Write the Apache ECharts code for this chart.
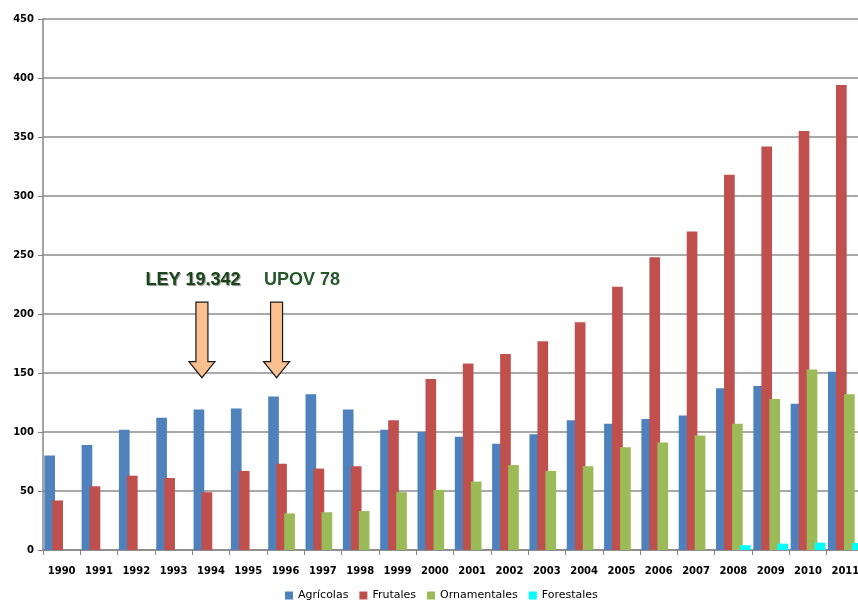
<!DOCTYPE html>
<html>
<head>
<meta charset="utf-8">
<script src="https://cdn.jsdelivr.net/npm/echarts@6/dist/echarts.min.js"></script>
<style>
html,body{margin:0;padding:0;background:#fff;}
#chart{width:858px;height:606px;}
</style>
</head>
<body>
<div id="chart"></div>
<script>
// categorias (años)
var years = ['1990','1991','1992','1993','1994','1995','1996','1997','1998','1999','2000',
             '2001','2002','2003','2004','2005','2006','2007','2008','2009','2010','2011'];
var agricolas = [80,89,102,112,119,120,130,132,119,102,100,96,90,98,110,107,111,114,137,139,124,151];
var frutales = [42,54,63,61,49,67,73,69,71,110,145,158,166,177,193,223,248,270,318,342,355,394];
var ornamentales = [null,null,null,null,null,null,31,32,33,49,51,58,72,67,71,87,91,97,107,128,153,132];
var forestales = [null,null,null,null,null,null,null,null,null,null,null,null,null,null,null,null,null,null,4,5.4,6.2,6];
var yTicks = [0,50,100,150,200,250,300,350,400,450];
// anotaciones: texto, año de la flecha
var notes = [
    {text:'LEY 19.342', year:'1994'},
    {text:'UPOV 78', year:'1996'}
];

var chart = echarts.init(document.getElementById('chart'));

function bar(name, data, color){
    return {
        name:name,
        type:'bar',
        data:data,
        barGap:'-25%',
        barCategoryGap:'7%',
        itemStyle:{color:color}
    };
}

var option = {
    animation:false,
    legend:{
        bottom:0,
        left:280,
        itemWidth:8,
        itemHeight:8,
        itemGap:11,
        icon:'rect',
        textStyle:{fontFamily:'DejaVu Sans',fontSize:11,color:'#000'},
        data:['Agrícolas','Frutales','Ornamentales','Forestales']
    },
    // el eje sigue más allá del borde derecho (2011 queda cortado)
    grid:{left:43,width:821,top:19,bottom:56,outerBoundsMode:'none'},
    xAxis:{
        type:'category',
        data:years,
        axisLine:{lineStyle:{color:'#868686',width:1.5}},
        axisTick:{show:true,length:5,lineStyle:{color:'#868686'}},
        axisLabel:{
            margin:16,
            interval:0,
            fontFamily:'DejaVu Sans',
            fontSize:10,
            fontWeight:'bold',
            color:'#000'
        }
    },
    yAxis:{
        type:'value',
        min:0,
        max:450,
        interval:50,
        axisLine:{show:true,lineStyle:{color:'#868686',width:1.5}},
        axisTick:{show:true,length:5,lineStyle:{color:'#868686'}},
        splitLine:{lineStyle:{color:'#8c8c8c',width:1.5}},
        axisLabel:{
            margin:9,
            fontFamily:'DejaVu Sans',
            fontSize:10,
            fontWeight:'bold',
            color:'#000',
            formatter:function(v){ return yTicks.indexOf(v) >= 0 ? String(v) : ''; }
        }
    },
    series:[
        bar('Agrícolas', agricolas, '#4F81BD'),
        bar('Frutales', frutales, '#C0504D'),
        bar('Ornamentales', ornamentales, '#9BBB59'),
        bar('Forestales', forestales, '#00FFFF')
    ]
};
chart.setOption(option);

// flechas y textos de anotación
var graphics = [];
var textX = [193, 302];
notes.forEach(function(n, i){
    var p = chart.convertToPixel({gridIndex:0}, [n.year, 0]);
    var x = p[0] - 9;
    var top = chart.convertToPixel({gridIndex:0}, [n.year, 210])[1];
    var tip = chart.convertToPixel({gridIndex:0}, [n.year, 146])[1];
    var neck = tip - 16;
    graphics.push({
        type:'polygon',
        shape:{points:[
            [x-6, top],[x+6, top],[x+6, neck],[x+13, neck],[x, tip],[x-13, neck],[x-6, neck]
        ]},
        style:{fill:'#FAC090',stroke:'#1a1a1a',lineWidth:1.2}
    });
    graphics.push({
        type:'text',
        x:textX[i],
        y:top - 22,
        style:{
            text:n.text,
            fill: i === 0 ? '#1A451A' : '#24582A',
            font:'bold 18px "Liberation Sans", Arial, sans-serif',
            align:'center',
            verticalAlign:'middle',
            textShadowColor: i === 0 ? 'rgba(0,0,0,0.45)' : 'transparent',
            textShadowBlur: i === 0 ? 1 : 0,
            textShadowOffsetX: 1,
            textShadowOffsetY: 1
        }
    });
});
chart.setOption({graphic:graphics});
</script>
</body>
</html>
